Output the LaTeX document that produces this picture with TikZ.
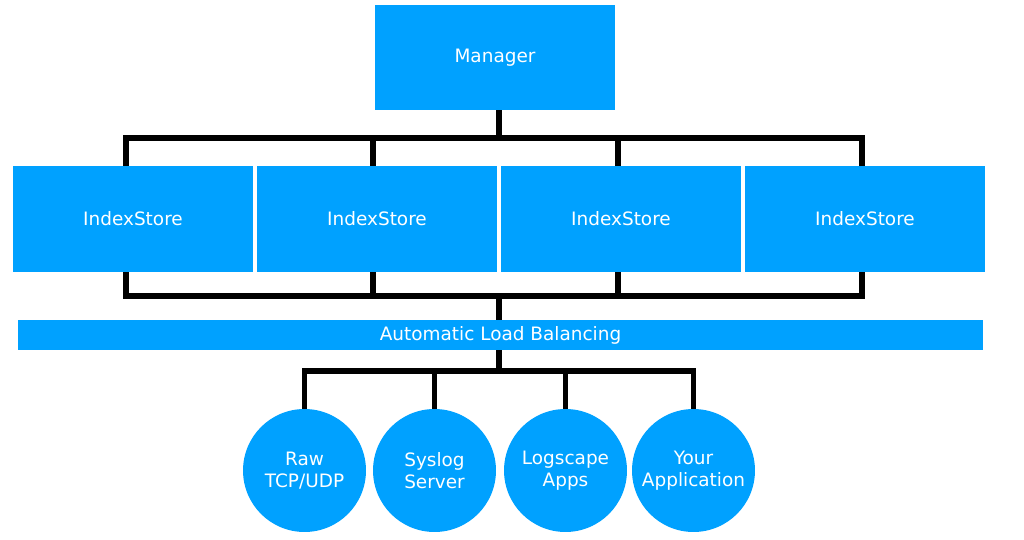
\documentclass[tikz,border=0pt]{standalone}
\usepackage{fontspec}
\setmainfont{DejaVu Sans}
\definecolor{lsblue}{RGB}{0,161,255}
\begin{document}
\begin{tikzpicture}[x=0.02cm,y=-0.02cm,
	   box/.style={fill=lsblue,text=white,inner sep=0pt,minimum width=4.8cm,minimum height=2.12cm,font=\fontsize{10.5}{12.5}\selectfont},
	   src/.style={circle,fill=lsblue,text=white,inner sep=0pt,minimum size=2.46cm,align=center,font=\fontsize{10.5}{12.5}\selectfont},
	   bus/.style={line width=3.1pt,line join=miter}]
	   \useasboundingbox (0,0) rectangle (1024,540);
	   \node [box,minimum height=2.1cm] (mgr) at (495,57.5) {Manager};
	   \node [box] (s1) at (133,219) {IndexStore};
	   \node [box] (s2) at (377,219) {IndexStore};
	   \node [box] (s3) at (621,219) {IndexStore};
	   \node [box] (s4) at (865,219) {IndexStore};
	   \node [box,minimum width=19.3cm,minimum height=0.6cm] (lb) at (500.5,335) {Automatic Load Balancing};
	   \node [src] (c1) at (304.5,470.5) {Raw\\TCP/UDP};
	   \node [src] (c2) at (434.5,470.5) {Syslog\\Server};
	   \node [src] (c3) at (565.5,470.5) {Logscape\\Apps};
	   \node [src] (c4) at (693.5,470.5) {Your\\Application};
	   \coordinate (top) at (499,138);
	   \coordinate (low) at (499,296);
	   \coordinate (fan) at (499,371);
	   \draw[bus] (mgr.south -| top) -- (top);
	   \draw[bus] ([xshift=-0.14cm]s1.north) |- (top) -| ([xshift=-0.06cm]s4.north);
	   \draw[bus] ([xshift=-0.08cm]s2.north) -- ([xshift=-0.08cm]s2.north |- top);
	   \draw[bus] ([xshift=-0.06cm]s3.north) -- ([xshift=-0.06cm]s3.north |- top);
	   \draw[bus] ([xshift=-0.14cm]s1.south) |- (low) -| ([xshift=-0.06cm]s4.south);
	   \draw[bus] ([xshift=-0.08cm]s2.south) -- ([xshift=-0.08cm]s2.south |- low);
	   \draw[bus] ([xshift=-0.06cm]s3.south) -- ([xshift=-0.06cm]s3.south |- low);
	   \draw[bus] (low) -- (low |- lb.north);
	   \draw[bus] (lb.south -| fan) -- (fan);
	   \draw[bus] (c1.north) |- (fan) -| (c4.north);
	   \draw[bus] (c2.north) -- (c2.north |- fan);
	   \draw[bus] (c3.north) -- (c3.north |- fan);
	\end{tikzpicture}
\end{document}
